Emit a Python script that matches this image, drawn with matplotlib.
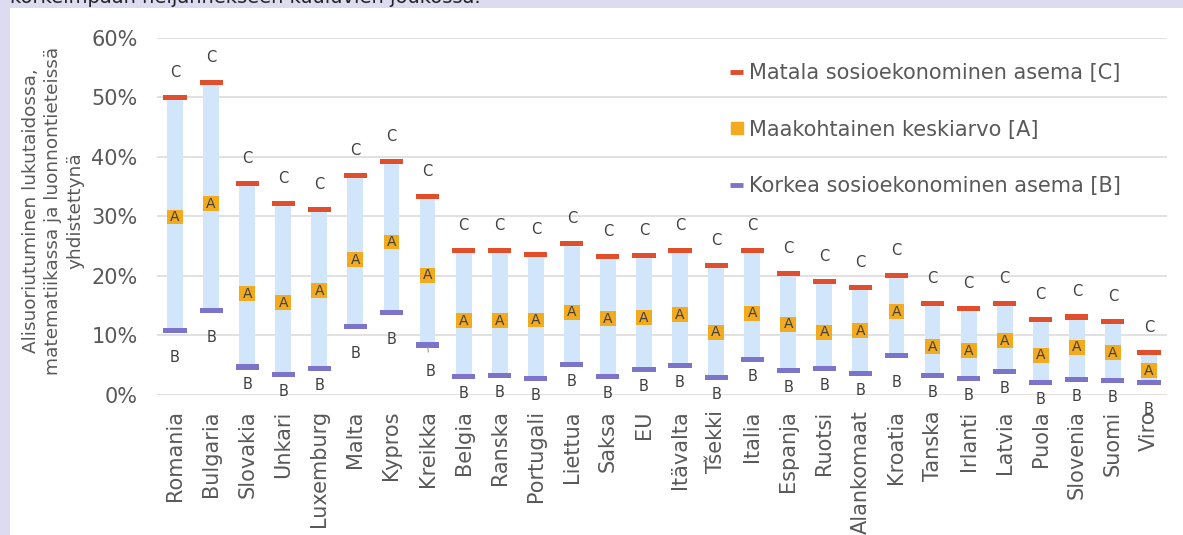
import numpy as np
import matplotlib.pyplot as plt
from matplotlib.lines import Line2D

# ---------------------------------------------------------------------------
# Data (share of underachievers, %)
# ---------------------------------------------------------------------------
countries = ["Romania", "Bulgaria", "Slovakia", "Unkari", "Luxemburg", "Malta",
             "Kypros", "Kreikka", "Belgia", "Ranska", "Portugali", "Liettua",
             "Saksa", "EU", "Itävalta", "Tšekki", "Italia", "Espanja", "Ruotsi",
             "Alankomaat", "Kroatia", "Tanska", "Irlanti", "Latvia", "Puola",
             "Slovenia", "Suomi", "Viro"]
low_ses = [50.0, 52.5, 35.5, 32.2, 31.2, 36.9, 39.2, 33.3, 24.3, 24.2, 23.6, 25.5,
           23.2, 23.5, 24.2, 21.7, 24.3, 20.4, 19.0, 18.1, 20.0, 15.4, 14.6, 15.3,
           12.7, 13.1, 12.4, 7.2]
average = [29.9, 32.1, 17.0, 15.5, 17.5, 22.7, 25.7, 20.1, 12.5, 12.5, 12.6, 13.9,
           12.8, 13.0, 13.5, 10.5, 13.7, 11.9, 10.5, 10.8, 14.0, 8.1, 7.4, 9.1,
           6.7, 8.0, 7.1, 4.1]
high_ses = [10.9, 14.2, 4.7, 3.5, 4.4, 11.5, 13.9, 8.4, 3.1, 3.2, 2.7, 5.2,
            3.1, 4.3, 4.9, 3.0, 6.0, 4.1, 4.5, 3.6, 6.7, 3.2, 2.7, 4.0,
            2.1, 2.6, 2.5, 2.1]
y_ticks = [0, 10, 20, 30, 40, 50, 60]

# B labels that sit further below their marker in the original
far_b_labels = {"Romania", "Bulgaria", "Malta", "Kypros", "Kreikka", "Kroatia", "Viro"}

RED = "#e04e2b"
ORANGE = "#f2aa1f"
PURPLE = "#7b74c9"
RANGE = "#d2e6fb"
GRAY = "#595959"
BG = "#dcdbef"

x = np.arange(len(countries))
low = np.array(low_ses)
avg = np.array(average)
high = np.array(high_ses)

fig = plt.figure(figsize=(11.83, 5.35), dpi=100)
fig.patch.set_facecolor(BG)
# white chart area inside the lavender frame
fig.add_artist(plt.Rectangle((10 / 1183, 0), 1, 1 - 8 / 535,
                             transform=fig.transFigure, facecolor="white",
                             edgecolor="none", zorder=0))
fig.text(10 / 1183, 1 - 2.7 / 535, "korkeimpaan neljännekseen kuuluvien joukossa.",
         fontsize=14, color="#222222", va="baseline", ha="left")

ax = fig.add_axes([157 / 1183, 1 - 395 / 535, 1010 / 1183, 357.3 / 535])
ax.set_facecolor("none")

# range between high and low socio-economic status
ax.bar(x, low - high, bottom=high, width=0.44, color=RANGE, zorder=2)
# C and B markers
ax.bar(x, 0.85, bottom=low - 0.425, width=0.64, color=RED, zorder=3)
ax.bar(x, 0.85, bottom=high - 0.425, width=0.64, color=PURPLE, zorder=3)
# country average squares
ax.bar(x, 2.5, bottom=avg - 1.25, width=0.44, color=ORANGE, zorder=4)

for xi, name, c, a, b in zip(x, countries, low, avg, high):
    ax.text(xi, a, "A", ha="center", va="center", fontsize=10, color="#404040", zorder=5)
    ax.annotate("C", (xi, c), xytext=(0, 25), textcoords="offset pixels",
                ha="center", va="center", fontsize=10.5, color="#404040")
    gap = 27 if name in far_b_labels else 17
    if name == "Kreikka":
        ax.annotate("B", (xi, b), xytext=(3, -gap), textcoords="offset pixels",
                    ha="center", va="center", fontsize=10.5, color="#404040",
                    arrowprops=dict(arrowstyle="-", color="#a6a6a6", lw=0.9,
                                    shrinkA=7, shrinkB=2))
    else:
        ax.annotate("B", (xi, b), xytext=(0, -gap), textcoords="offset pixels",
                    ha="center", va="center", fontsize=10.5, color="#404040")

ax.set_xlim(-0.5, len(countries) - 0.5)
ax.set_ylim(0, 60)
ax.set_yticks(y_ticks)
ax.set_yticklabels([f"{t}%" for t in y_ticks])
ax.set_xticks(x)
ax.set_xticklabels(countries, rotation=90)
ax.tick_params(axis="y", length=0, pad=14, labelsize=15, labelcolor=GRAY)
ax.tick_params(axis="x", length=0, pad=11, labelsize=15, labelcolor=GRAY)
ax.grid(axis="y", color="#d9d9d9", lw=1.1, zorder=0)
ax.set_axisbelow(True)
for s in ax.spines.values():
    s.set_visible(False)

fig.text(53 / 1183, 1 - 211 / 535,
         "Alisuoriutuminen lukutaidossa,\nmatematiikassa ja luonnontieteissä\nyhdistettynä",
         rotation=90, ha="center", va="center", multialignment="center",
         fontsize=13.3, color=GRAY, linespacing=1.28)

handles = [
    Line2D([], [], color=RED, lw=3.5, solid_capstyle="butt"),
    Line2D([], [], color=ORANGE, marker="s", markersize=9, linestyle="none"),
    Line2D([], [], color=PURPLE, lw=3.5, solid_capstyle="butt"),
]
labels = ["Matala sosioekonominen asema [C]", "Maakohtainen keskiarvo [A]",
          "Korkea sosioekonominen asema [B]"]
leg = ax.legend(handles, labels, loc="upper left", bbox_to_anchor=(0.559, 0.952),
                frameon=False, fontsize=15, labelspacing=1.75, handlelength=0.65,
                handletextpad=0.25, borderaxespad=0)
for t in leg.get_texts():
    t.set_color(GRAY)

fig.savefig("out.png", dpi=100, facecolor=fig.get_facecolor())
